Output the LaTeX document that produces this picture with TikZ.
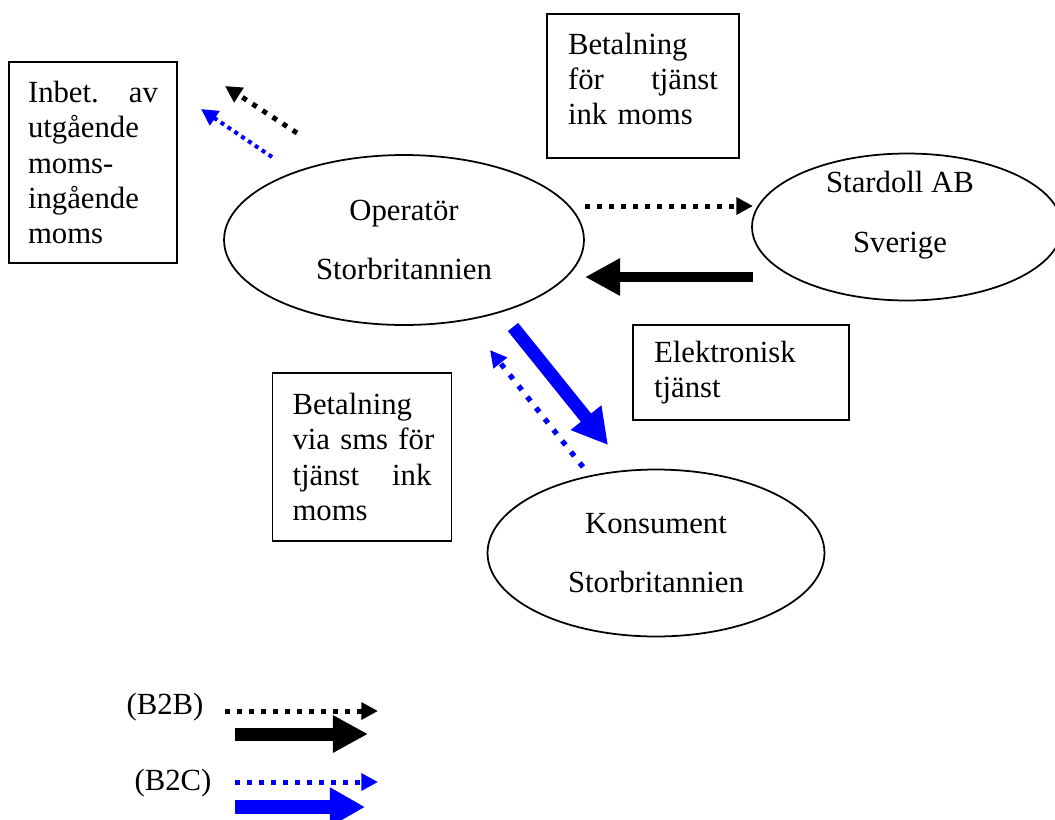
\documentclass[tikz,border=0pt]{standalone}
\usepackage{fontspec}
\setmainfont{Liberation Serif}
\usetikzlibrary{arrows.meta,shapes.geometric}
\definecolor{Blue}{HTML}{0000FF}

\begin{document}
\begin{tikzpicture}[
  x=0.02cm,y=-0.02cm,line width=1pt,
  txt/.style={font=\fontsize{17.5}{20}\selectfont},
  box/.style={txt,draw,align=left,inner ysep=0pt},
  oval/.style={draw,ellipse,font=\fontsize{17.5}{34}\selectfont,align=center,inner sep=0pt},
  dotb2b/.style={line width=2.85pt,dash pattern=on 2.85pt off 4pt,-{Triangle[length=9.5pt,width=9.5pt]}},
  solidb2b/.style={line width=6pt,-{Triangle[length=20pt,width=20pt]}},
  dotb2c/.style={Blue,line width=2.3pt,dash pattern=on 2.3pt off 2.4pt,-{Triangle[length=9.5pt,width=9.5pt]}},
  solidb2c/.style={Blue,line width=7.5pt,-{Triangle[length=20pt,width=21pt]}}
]
  \useasboundingbox (0,0) rectangle (1055,819);

  % ovals
  \node[oval,minimum width=7.2cm,minimum height=3.4cm] (op) at (404,240) {Operatör\\Storbritannien};
  \node[oval,minimum width=6.2cm,minimum height=2.94cm,
    label={[font=\fontsize{17.5}{34}\selectfont,align=center,xshift=-0.14cm,yshift=0.24cm]center:{Stardoll AB\\Sverige}}] (sd) at (907,227) {};
  \node[oval,minimum width=6.74cm,minimum height=3.34cm] (kons) at (656,553) {Konsument\\Storbritannien};

  % boxes
  \node[box,text width=2.6cm,inner xsep=0.38cm,minimum height=4.02cm] (vat) at (93,162.5)
    {Inbet.\hfill av\\utgående\\moms-\\ingående\\moms};
  \node[box,minimum width=3.84cm,minimum height=2.88cm,
    label={[txt,align=left,text width=3cm,yshift=0.14cm]center:{Betalning\\för\hfill tjänst\\ink moms}}] (payb) at (643,86) {};
  \node[box,text width=3.48cm,inner xsep=0.42cm,minimum height=1.9cm] (serv) at (741,372.5)
    {Elektronisk\\tjänst};
  \node[box,text width=2.78cm,inner xsep=0.4cm,minimum height=3.36cm] (sms) at (362,457)
    {Betalning\\\mbox{via sms för}\\tjänst\hfill ink\\moms};

  % arrow ends
  \coordinate (vk1) at (297,133); \coordinate (vk2) at (225,86);
  \coordinate (vb1) at (272,157); \coordinate (vb2) at (201,109);
  \coordinate (sd1) at (585,206); \coordinate (sd2) at (753,206);
  \coordinate (sd3) at (753,277); \coordinate (sd4) at (585,277);
  \coordinate (ks1) at (513,327); \coordinate (ks2) at (608,445);
  \coordinate (ks3) at (583,467); \coordinate (ks4) at (490,350);

  \draw[dotb2b] (vk1) -- (vk2);
  \draw[dotb2c] (vb1) -- (vb2);
  \draw[dotb2b] (sd1) -- (sd2);
  \draw[solidb2b] (sd3) -- (sd4);
  \draw[solidb2c] (ks1) -- (ks2);
  \draw[dotb2c,line width=3pt,dash pattern=on 3pt off 5pt] (ks3) -- (ks4);

  % legend
  \node[txt] (b2b) at (165,707) {(B2B)};
  \node[txt] (b2c) at (173,783) {(B2C)};
  \coordinate (l1) at (225,711); \coordinate (l2) at (378,711);
  \coordinate (l3) at (235,734); \coordinate (l4) at (368,734);
  \coordinate (l5) at (235,782); \coordinate (l6) at (378,782);
  \coordinate (l7) at (235,807); \coordinate (l8) at (365,807);
  \draw[dotb2b] (l1) -- (l2);
  \draw[solidb2b,line width=7.4pt] (l3) -- (l4);
  \draw[dotb2c,line width=2.85pt,dash pattern=on 2.85pt off 4pt] (l5) -- (l6);
  \draw[solidb2c] (l7) -- (l8);
\end{tikzpicture}
\end{document}
